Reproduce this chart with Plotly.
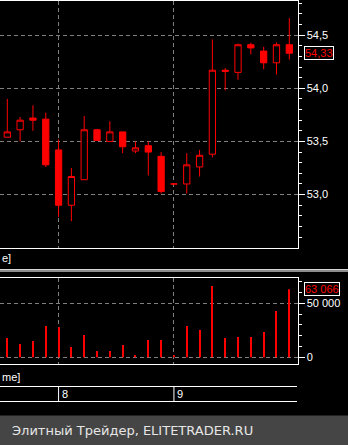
import numpy as np
import plotly.graph_objects as go

# ---------------- data ----------------
idx = list(range(23))
open_ = [53.54, 53.61, 53.72, 53.71, 53.42, 52.90, 53.14, 53.61, 53.50, 53.59, 53.41, 53.46,
         53.36, 53.10, 53.10, 53.26, 53.38, 54.17, 54.15, 54.41, 54.35, 54.24, 54.41]
high = [53.90, 53.73, 53.84, 53.77, 53.52, 53.25, 53.74, 53.61, 53.69, 53.59, 53.50, 53.50,
        53.40, 53.10, 53.39, 53.42, 54.46, 54.19, 54.42, 54.43, 54.39, 54.43, 54.66]
low = [53.54, 53.50, 53.60, 53.26, 52.79, 52.75, 53.14, 53.51, 53.50, 53.39, 53.39, 53.18,
       53.01, 53.10, 53.01, 53.17, 53.35, 53.98, 54.08, 54.32, 54.18, 54.13, 54.27]
close = [53.59, 53.70, 53.70, 53.28, 52.90, 53.17, 53.61, 53.51, 53.59, 53.45, 53.44, 53.40,
         53.03, 53.10, 53.28, 53.37, 54.17, 54.16, 54.41, 54.38, 54.24, 54.41, 54.33]
volume = [17900, 12300, 15100, 29000, 27800, 9500, 20600, 5800, 5800, 11400, 2100, 16000,
          16000, 1500, 29000, 25300, 66000, 17900, 18800, 18800, 23400, 42900, 63066]

price_ticks = [53.0, 53.5, 54.0, 54.5]
price_ticktext = ["53,0", "53,5", "54,0", "54,5"]
vol_ticks = [0, 50000]
vol_ticktext = ["0", "50 000"]
day_starts = [4, 13]
day_labels = ["8", "9"]
last_price_text = "54,33"
last_volume_text = "63 066"
footer_text = "Элитный Трейдер, ELITETRADER.RU"

# ---------------- layout helpers ----------------
W, H = 348, 445
def px_x(p):
    return p / W
def px_y(p):
    return 1 - p / H

RED = "#ff0000"
GRID = "#808080"
WHITE = "#ffffff"
FONT = "Liberation Sans"
dom_x = [0, 297.5 / W]
xr = [-0.5695, 22.64]

fig = go.Figure()
fig.add_trace(go.Candlestick(
    x=idx, open=open_, high=high, low=low, close=close,
    increasing=dict(line=dict(color=RED, width=1), fillcolor="#000000"),
    decreasing=dict(line=dict(color=RED, width=1), fillcolor=RED),
    whiskerwidth=0, xaxis="x", yaxis="y", showlegend=False, hoverinfo="skip"))
fig.add_trace(go.Bar(
    x=idx, y=volume, width=0.078, marker=dict(color=RED, line=dict(width=0)),
    xaxis="x2", yaxis="y2", showlegend=False, hoverinfo="skip"))

common_x = dict(domain=dom_x, range=xr, showline=True, linecolor=WHITE, linewidth=1,
                mirror=True, ticks="", showticklabels=False, tickmode="array",
                tickvals=day_starts, showgrid=True, gridcolor=GRID, gridwidth=1,
                griddash="4px,3px", zeroline=False, fixedrange=True)

fig.update_layout(
    width=W, height=H, margin=dict(l=0, r=0, t=0, b=0, pad=0),
    paper_bgcolor="#000000", plot_bgcolor="#000000", showlegend=False,
    font=dict(family=FONT, color=WHITE, size=11),
    xaxis=dict(common_x, anchor="y", rangeslider=dict(visible=False)),
    xaxis2=dict(common_x, anchor="y2"),
    yaxis=dict(domain=[px_y(248), px_y(1)], range=[52.4976, 54.8213], side="right",
               anchor="x", showline=True, linecolor=WHITE, linewidth=1,
               ticks="outside", ticklen=6, tickcolor=WHITE, tickwidth=1,
               tickmode="array", tickvals=price_ticks, ticktext=price_ticktext,
               tickfont=dict(family=FONT, size=11, color=WHITE),
               showgrid=True, gridcolor=GRID, gridwidth=1, griddash="4px,3px",
               zeroline=False, fixedrange=True,
               minor=dict(tickmode="array", tickvals=list(np.round(np.arange(52.6, 54.85, 0.1), 2)),
                          ticks="outside", ticklen=3, tickcolor=WHITE, tickwidth=1, showgrid=False)),
    yaxis2=dict(domain=[px_y(364), px_y(278.3)], range=[-6204, 73148], side="right",
                anchor="x2", showline=True, linecolor=WHITE, linewidth=1,
                ticks="outside", ticklen=6, tickcolor=WHITE, tickwidth=1,
                tickmode="array", tickvals=vol_ticks, ticktext=vol_ticktext,
                tickfont=dict(family=FONT, size=11, color=WHITE),
                showgrid=True, gridcolor=GRID, gridwidth=1, griddash="4px,3px",
                zeroline=False, fixedrange=True,
                minor=dict(tickmode="array", tickvals=[10000, 20000, 30000, 40000, 60000, 70000],
                           ticks="outside", ticklen=3, tickcolor=WHITE, tickwidth=1, showgrid=False)),
)

shapes = []
# splitter between panels
shapes.append(dict(type="rect", xref="paper", yref="paper", x0=0, x1=1,
                   y0=px_y(272), y1=px_y(269), fillcolor="#8c8c8c", line=dict(width=0)))
shapes.append(dict(type="line", xref="paper", yref="paper", x0=0, x1=1,
                   y0=px_y(269.5), y1=px_y(269.5), line=dict(color="#d8d8d8", width=1)))
# time axis rows
for yy in (386.5, 401.5):
    shapes.append(dict(type="line", xref="paper", yref="paper", x0=0, x1=px_x(297),
                       y0=px_y(yy), y1=px_y(yy), line=dict(color=WHITE, width=1)))
for d in day_starts:
    shapes.append(dict(type="line", xref="x2", yref="paper", x0=d, x1=d,
                       y0=px_y(386.5), y1=px_y(401.5), line=dict(color=WHITE, width=1)))
# footer
shapes.append(dict(type="rect", xref="paper", yref="paper", x0=0, x1=1,
                   y0=0, y1=px_y(415.5), fillcolor="#454545", line=dict(width=0), layer="above"))
fig.update_layout(shapes=shapes)

ann = []
ann.append(dict(text="e]", xref="paper", yref="paper", x=0, y=px_y(258), xanchor="left",
                yanchor="middle", xshift=0, showarrow=False, font=dict(color=WHITE, size=11)))
ann.append(dict(text="me]", xref="paper", yref="paper", x=0, y=px_y(377), xanchor="left",
                yanchor="middle", xshift=0, showarrow=False, font=dict(color=WHITE, size=11)))
for d, lab in zip(day_starts, day_labels):
    ann.append(dict(text=lab, xref="x2", yref="paper", x=d, y=px_y(394), xanchor="left",
                    yanchor="middle", xshift=1, showarrow=False, font=dict(color=WHITE, size=11)))
ann.append(dict(text=last_price_text, xref="paper", yref="y", x=px_x(303.5), y=close[-1],
                xanchor="left", yanchor="middle", showarrow=False, bgcolor="#000000",
                bordercolor=WHITE, borderwidth=1, borderpad=0, font=dict(color=RED, size=11)))
ann.append(dict(text=last_volume_text, xref="paper", yref="y2", x=px_x(303.5), y=volume[-1],
                xanchor="left", yanchor="middle", showarrow=False, bgcolor="#000000",
                bordercolor=WHITE, borderwidth=1, borderpad=0, font=dict(color=RED, size=11)))
ann.append(dict(text=footer_text, xref="paper", yref="paper", x=px_x(10), y=px_y(430.5),
                xanchor="left", yanchor="middle", showarrow=False,
                font=dict(color="#e6e6e6", size=13, family="DejaVu Sans")))
fig.update_layout(annotations=ann)

fig.write_html("out.html")
